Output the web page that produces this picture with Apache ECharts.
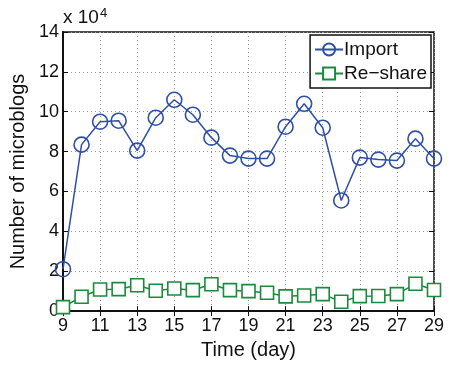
<!DOCTYPE html>
<html>
<head>
<meta charset="utf-8">
<script src="https://cdn.jsdelivr.net/npm/echarts@6/dist/echarts.min.js"></script>
<style>
html,body{margin:0;padding:0;background:#fff;}
#chart{width:449px;height:365px;}
</style>
</head>
<body>
<div id="chart"></div>
<script>
// Daily counts, in units of 10^4 microblogs
const days = [9,10,11,12,13,14,15,16,17,18,19,20,21,22,23,24,25,26,27,28,29];
const importCounts = [2.1,8.35,9.5,9.55,8.05,9.7,10.6,9.85,8.7,7.8,7.65,7.65,9.25,10.4,9.2,5.55,7.7,7.6,7.55,8.65,7.65];
const reshareCounts = [0.2,0.72,1.08,1.1,1.3,1.02,1.13,1.05,1.35,1.05,1.0,0.92,0.74,0.78,0.85,0.47,0.75,0.76,0.85,1.37,1.06];
const xTicks = {min: 9, max: 29, step: 2};
const yTicks = {min: 0, max: 14, step: 2};

const FONT = 'Liberation Sans';
const BLUE = '#2f4fa8';
const GREEN = '#1b8a3c';

const pairs = (xs, ys) => xs.map((x, i) => [x, ys[i]]);

const chart = echarts.init(document.getElementById('chart'));
const tickText = {color: '#111', fontFamily: FONT, fontSize: 18};
const nameText = {color: '#111', fontFamily: FONT, fontSize: 20};
chart.setOption({
  animation: false,
  backgroundColor: '#fff',
  grid: {left: 63, right: 15, top: 32, bottom: 47, show: true, borderColor: '#111', borderWidth: 1.5, backgroundColor: 'transparent'},
  xAxis: [{
    type: 'value', min: xTicks.min, max: xTicks.max, interval: xTicks.step,
    name: 'Time (day)', nameLocation: 'middle', nameGap: 27,
    nameTextStyle: nameText,
    axisLine: {lineStyle: {color: '#111', width: 2}},
    axisTick: {inside: true, length: 5, lineStyle: {color: '#111'}},
    axisLabel: Object.assign({margin: 6}, tickText),
    splitLine: {show: true, lineStyle: {type: [1, 3], color: '#999'}}
  }, {
    type: 'value', position: 'top', min: xTicks.min, max: xTicks.max, interval: xTicks.step,
    axisLine: {show: false}, axisLabel: {show: false}, splitLine: {show: false},
    axisTick: {inside: true, length: 5, lineStyle: {color: '#111'}}
  }],
  yAxis: [{
    type: 'value', min: yTicks.min, max: yTicks.max, interval: yTicks.step,
    name: 'Number of microblogs', nameLocation: 'middle', nameGap: 28, nameRotate: 90,
    nameTextStyle: nameText,
    axisLine: {lineStyle: {color: '#111', width: 2}},
    axisTick: {inside: true, length: 5, lineStyle: {color: '#111'}},
    axisLabel: Object.assign({margin: 4}, tickText),
    splitLine: {show: true, lineStyle: {type: [1, 3], color: '#999'}}
  }, {
    type: 'value', position: 'right', min: yTicks.min, max: yTicks.max, interval: yTicks.step,
    axisLine: {show: false}, axisLabel: {show: false}, splitLine: {show: false},
    axisTick: {inside: true, length: 5, lineStyle: {color: '#111'}}
  }],
  legend: {
    right: 18, top: 35, orient: 'vertical', itemGap: 5, itemWidth: 28, itemHeight: 15,
    padding: [5, 4, 5, 4],
    borderColor: '#111', borderWidth: 1.5, backgroundColor: '#fff',
    textStyle: {color: '#111', fontFamily: FONT, fontSize: 19, padding: [0, 0, 0, -4]},
    data: ['Import', 'Re\u2212share']
  },
  graphic: [{
    type: 'text', left: 63, top: 7,
    style: {
      rich: {b: {fontFamily: FONT, fontSize: 19, fill: '#111'}, s: {fontFamily: FONT, fontSize: 13, fill: '#111', verticalAlign: 'top', padding: [0,0,9,1]}},
      text: '{b|x 10}{s|4}'
    }
  }],
  series: [{
    name: 'Re\u2212share', type: 'line', data: pairs(days, reshareCounts),
    symbol: 'rect', symbolSize: 13, showAllSymbol: true,
    lineStyle: {color: GREEN, width: 1.5},
    itemStyle: {color: '#fff', borderColor: GREEN, borderWidth: 1.6}
  }, {
    name: 'Import', type: 'line', data: pairs(days, importCounts),
    symbol: 'circle', symbolSize: 15, showAllSymbol: true,
    lineStyle: {color: BLUE, width: 1.5},
    itemStyle: {color: 'rgba(255,255,255,0)', borderColor: BLUE, borderWidth: 1.6}
  }]
});
</script>
</body>
</html>
